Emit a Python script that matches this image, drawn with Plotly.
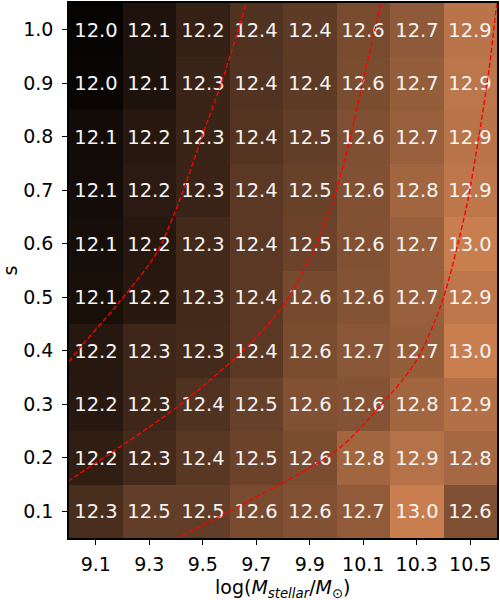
import plotly.graph_objects as go

# Data
log_mstellar = [9.1, 9.3, 9.5, 9.7, 9.9, 10.1, 10.3, 10.5]
s_values = [0.1, 0.2, 0.3, 0.4, 0.5, 0.6, 0.7, 0.8, 0.9, 1.0]

# rows ordered by s_values (0.1 -> 1.0)
halo_mass = [
    [12.34, 12.46, 12.46, 12.57, 12.62, 12.70, 12.98, 12.60],  # 0.1
    [12.21, 12.31, 12.41, 12.51, 12.58, 12.78, 12.88, 12.80],  # 0.2
    [12.17, 12.28, 12.37, 12.48, 12.62, 12.63, 12.78, 12.87],  # 0.3
    [12.16, 12.28, 12.31, 12.42, 12.58, 12.66, 12.72, 12.98],  # 0.4
    [12.09, 12.17, 12.30, 12.42, 12.56, 12.63, 12.74, 12.92],  # 0.5
    [12.08, 12.16, 12.30, 12.42, 12.51, 12.62, 12.74, 12.98],  # 0.6
    [12.07, 12.18, 12.26, 12.42, 12.49, 12.62, 12.78, 12.92],  # 0.7
    [12.06, 12.16, 12.26, 12.39, 12.46, 12.60, 12.73, 12.90],  # 0.8
    [12.01, 12.12, 12.26, 12.38, 12.44, 12.58, 12.72, 12.91],  # 0.9
    [12.00, 12.12, 12.23, 12.37, 12.44, 12.57, 12.69, 12.90],  # 1.0
]

# Dashed red curves (data units)
curve1_x = [8.95, 9.003, 9.19, 9.33, 9.425, 9.499, 9.574, 9.663, 9.68]
curve1_y = [0.33, 0.381, 0.492, 0.585, 0.697, 0.803, 0.907, 1.05, 1.08]
curve2_x = [8.95, 9.003, 9.402, 9.675, 9.811, 9.929, 10.0, 10.054, 10.097, 10.166, 10.175]
curve2_y = [0.14, 0.158, 0.294, 0.412, 0.492, 0.604, 0.701, 0.803, 0.901, 1.05, 1.08]
curve3_x = [9.35, 9.413, 9.675, 9.999, 10.171, 10.298, 10.395, 10.484, 10.533, 10.57, 10.6, 10.61]
curve3_y = [0.035, 0.052, 0.12, 0.213, 0.301, 0.381, 0.492, 0.665, 0.803, 0.925, 1.05, 1.08]

# copper colormap
def copper(f):
    r = min(1.0, 1.25 * f) * 255
    g = 0.7812 * f * 255
    b = 0.4975 * f * 255
    return f"rgb({r:.0f},{g:.0f},{b:.0f})"

stops = [i / 20 for i in range(21)]
copper_scale = [[f, copper(f)] for f in stops]

FONT = "DejaVu Sans"

fig = go.Figure()
fig.add_trace(go.Heatmap(
    x=log_mstellar, y=s_values, z=halo_mass,
    colorscale=copper_scale, zmin=11.97, zmax=13.57,
    showscale=False,
    texttemplate="%{z:.1f}",
    textfont=dict(family=FONT, size=19.5, color="#f5f5f5"),
    hoverinfo="skip",
))
for cx, cy in [(curve1_x, curve1_y), (curve2_x, curve2_y), (curve3_x, curve3_y)]:
    fig.add_trace(go.Scatter(
        x=cx, y=cy, mode="lines",
        line=dict(color="red", width=1.4, dash="5px,2.5px", shape="spline", smoothing=0.8),
        showlegend=False, hoverinfo="skip",
    ))

axis_common = dict(
    showline=True, linecolor="black", linewidth=1.5, mirror=True,
    ticks="outside", ticklen=5, tickwidth=1.2, tickcolor="black",
    showgrid=False, zeroline=False,
    tickfont=dict(family=FONT, size=19, color="black"),
)
fig.update_xaxes(range=[9.0, 10.6], tickvals=log_mstellar,
                 ticktext=[f"{v:.1f}" for v in log_mstellar],
                 ticklabelstandoff=3, **axis_common)
fig.update_yaxes(range=[0.05, 1.05], tickvals=s_values,
                 ticktext=[f"{v:.1f}" for v in s_values],
                 ticklabelstandoff=5, **axis_common)

fig.update_layout(
    width=500, height=600,
    margin=dict(l=69, r=2, t=1, b=62),
    paper_bgcolor="white", plot_bgcolor="white",
    font=dict(family=FONT, color="black"),
    showlegend=False,
    annotations=[
        dict(text="log(<i>M<sub>stellar</sub></i>/<i>M</i><sub>⊙</sub>)",
             xref="paper", yref="paper", x=0.5, y=-0.095, yanchor="middle",
             xanchor="center", showarrow=False, font=dict(family=FONT, size=19)),
        dict(text="s", xref="paper", yref="paper", x=-0.138, y=0.5,
             textangle=-90, xanchor="center", yanchor="middle", showarrow=False,
             font=dict(family=FONT, size=19)),
    ],
)

fig.write_html("out.html", config={"displayModeBar": False},
               post_script="document.body.style.margin='0';document.body.style.overflow='hidden';")
